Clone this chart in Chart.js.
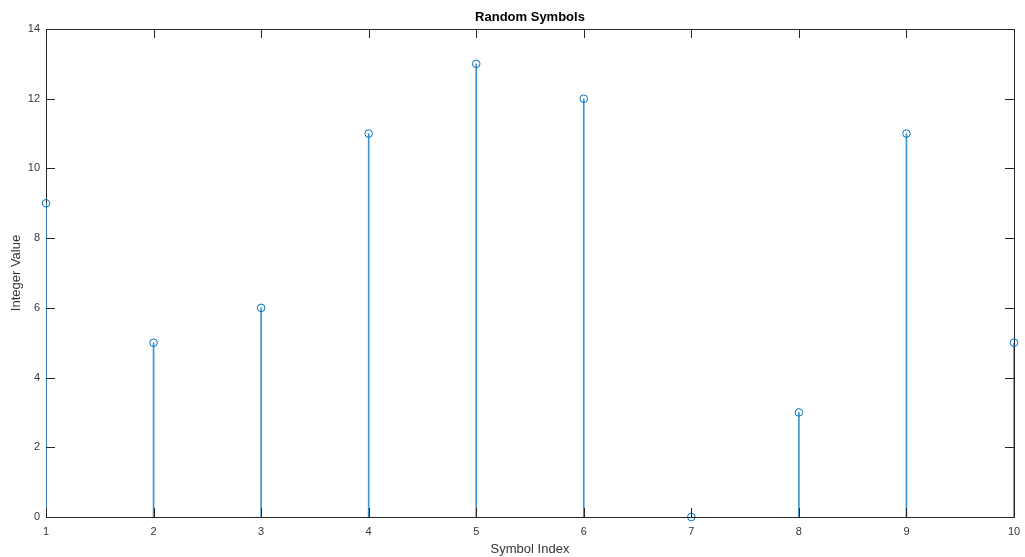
<!DOCTYPE html>
<html><head><meta charset="utf-8">
<script src="https://cdn.jsdelivr.net/npm/chart.js@4/dist/chart.umd.min.js"></script>
<style>html,body{margin:0;padding:0;background:#fff}#wrap{width:1025px;height:557px}</style>
</head><body><div id="wrap"><canvas id="c" width="1025" height="557"></canvas></div>
<script>
const symbolIndex = [1,2,3,4,5,6,7,8,9,10];
const integerValue = [9,5,6,11,13,12,0,3,11,5];
const xTicks = [1,2,3,4,5,6,7,8,9,10];
const yTicks = [0,2,4,6,8,10,12,14];
const chartTitle = 'Random Symbols';

const BLUE = '#0072BD';
const STEM = '#3d93d4';
const AX = '#262626';
const LBL = '#363636';
const FONT = '"Liberation Sans", Arial, Helvetica, sans-serif';

const points = symbolIndex.map((x,i)=>({x:x,y:integerValue[i]}));

const boxTicks = {
  id:'boxTicks',
  beforeDatasetsDraw(chart){
    const {ctx, chartArea:a} = chart;
    ctx.save();
    ctx.strokeStyle = AX;
    ctx.lineWidth = 1;
    ctx.strokeRect(Math.round(a.left)+0.5, Math.round(a.top)+0.5, Math.round(a.right-a.left), Math.round(a.bottom-a.top));
    ctx.restore();
  },
  afterDatasetsDraw(chart){
    const {ctx, chartArea:a, scales} = chart;
    const L = 9;
    ctx.save();
    ctx.strokeStyle = AX;
    ctx.lineWidth = 1;
    ctx.beginPath();
    xTicks.forEach(v=>{
      const p = Math.round(scales.x.getPixelForValue(v))+0.5;
      ctx.moveTo(p, a.bottom); ctx.lineTo(p, a.bottom-L);
      ctx.moveTo(p, a.top); ctx.lineTo(p, a.top+L);
    });
    yTicks.forEach(v=>{
      const p = Math.round(scales.y.getPixelForValue(v))+0.5;
      ctx.moveTo(a.left, p); ctx.lineTo(a.left+L, p);
      ctx.moveTo(a.right, p); ctx.lineTo(a.right-L, p);
    });
    ctx.moveTo(a.left, Math.round(a.bottom)+0.5); ctx.lineTo(a.right+0.5, Math.round(a.bottom)+0.5);
    ctx.stroke();
    ctx.fillStyle = '#000';
    ctx.font = 'bold 13px ' + FONT;
    ctx.textAlign = 'center';
    ctx.textBaseline = 'middle';
    ctx.fillText(chartTitle, (a.left+a.right)/2, 17);
    ctx.restore();
  }
};

new Chart(document.getElementById('c'), {
  data:{
    datasets:[
      {type:'bar', data:points, backgroundColor:STEM, borderWidth:0, barThickness:1, order:2},
      {type:'scatter', data:points, pointStyle:'circle', pointRadius:3.8, pointBorderWidth:1,
       pointBorderColor:BLUE, pointBackgroundColor:'rgba(255,255,255,0)', clip:false, order:1}
    ]
  },
  options:{
    responsive:false, animation:false,
    layout:{padding:{left:0,right:11,top:29,bottom:0}},
    plugins:{ legend:{display:false}, tooltip:{enabled:false}, title:{display:false} },
    scales:{
      x:{type:'linear', min:1, max:10, offset:false,
        afterBuildTicks(s){ s.ticks = xTicks.map(v=>({value:v})); },
        afterFit(s){ s.height = 40; s.paddingLeft = 0; s.paddingRight = 0; },
        grid:{display:false, drawTicks:false}, border:{display:false},
        ticks:{color:LBL, padding:8, font:{family:FONT,size:11}, maxRotation:0, autoSkip:false},
        title:{display:true, text:'Symbol Index', color:LBL, font:{family:FONT,size:13}, padding:{top:2,bottom:0}}
      },
      y:{type:'linear', min:0, max:14,
        afterBuildTicks(s){ s.ticks = yTicks.map(v=>({value:v})); },
        afterFit(s){ s.width = 46; s.paddingTop = 0; s.paddingBottom = 0; },
        grid:{display:false, drawTicks:false}, border:{display:false},
        ticks:{color:LBL, padding:6, font:{family:FONT,size:11}},
        title:{display:true, text:'Integer Value', color:LBL, font:{family:FONT,size:13}, padding:{top:9,bottom:4}}
      }
    }
  },
  plugins:[boxTicks]
});
</script></body></html>
